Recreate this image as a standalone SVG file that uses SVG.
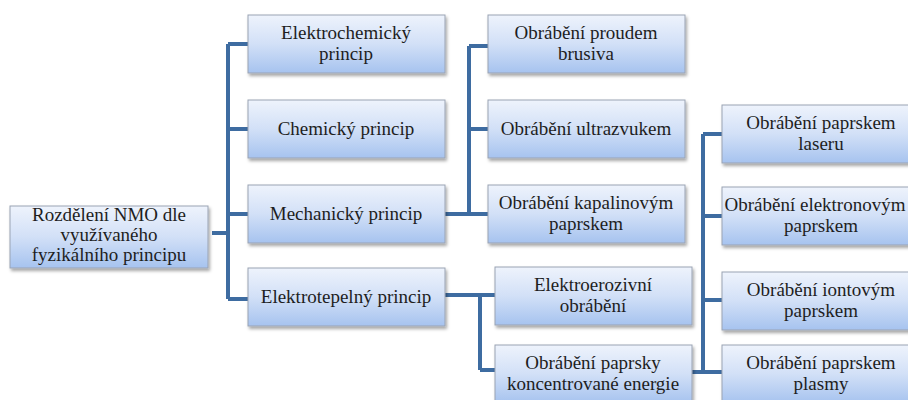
<svg xmlns="http://www.w3.org/2000/svg" width="908" height="400" viewBox="0 0 908 400">
<defs>
<linearGradient id="g" x1="0" y1="0" x2="0" y2="1">
<stop offset="0" stop-color="#eef3fc"/>
<stop offset="0.5" stop-color="#d2e0f7"/>
<stop offset="1" stop-color="#a6c3ef"/>
</linearGradient>
<filter id="sh" x="-10%" y="-10%" width="125%" height="140%">
<feDropShadow dx="1.5" dy="2.5" stdDeviation="1.5" flood-color="#000" flood-opacity="0.35"/>
</filter>
</defs>
<style>
.box{fill:url(#g);stroke:#9aa3b3;stroke-width:1;filter:url(#sh)}
.c{fill:none;stroke:#3e6ca1;stroke-width:4}
</style>
<rect width="908" height="400" fill="#fff"/>
<g id="connectors">
<path class="c" d="M212 233H228M228 44V299M228 44H248M228 129H248M228 214H248M228 299H248"/>
<path class="c" d="M445 214H488M469 46V214M469 46H488M469 129H488"/>
<path class="c" d="M445 295H495M480 295V370M480 370H495"/>
<path class="c" d="M692 372H703M703 134V372M703 134H722M703 216H722M703 300H722M703 372H722"/>
</g>
<g id="nodes" font-family="Liberation Serif, serif" font-size="19" fill="#1e1e1e" text-anchor="middle">
<g id="root"><rect class="box" x="10" y="206" width="198" height="62"/>
<text x="109" y="221">Rozdělení NMO dle</text><text x="109" y="241">využívaného</text><text x="109" y="261">fyzikálního principu</text></g>
<g id="elektrochem"><rect class="box" x="248" y="15" width="197" height="58"/>
<text x="346" y="39">Elektrochemický</text><text x="346" y="60">princip</text></g>
<g id="chem"><rect class="box" x="248" y="100" width="197" height="58"/>
<text x="346" y="135">Chemický princip</text></g>
<g id="mech"><rect class="box" x="248" y="185" width="197" height="58"/>
<text x="346" y="220">Mechanický princip</text></g>
<g id="elektrotep"><rect class="box" x="248" y="268" width="197" height="58"/>
<text x="346" y="303">Elektrotepelný princip</text></g>
<g id="brusivo"><rect class="box" x="488" y="15" width="197" height="58"/>
<text x="586" y="39">Obrábění proudem</text><text x="586" y="60">brusiva</text></g>
<g id="ultrazvuk"><rect class="box" x="488" y="100" width="197" height="58"/>
<text x="586" y="135">Obrábění ultrazvukem</text></g>
<g id="kapalina"><rect class="box" x="488" y="185" width="197" height="58"/>
<text x="586" y="209">Obrábění kapalinovým</text><text x="586" y="230">paprskem</text></g>
<g id="eroze"><rect class="box" x="495" y="267" width="197" height="58"/>
<text x="593" y="291">Elektroerozivní</text><text x="593" y="312">obrábění</text></g>
<g id="koncentr"><rect class="box" x="495" y="345" width="197" height="58"/>
<text x="593" y="369">Obrábění paprsky</text><text x="593" y="390">koncentrované energie</text></g>
<g id="laser"><rect class="box" x="722" y="105" width="198" height="58"/>
<text x="821" y="129">Obrábění paprskem</text><text x="821" y="150">laseru</text></g>
<g id="elektron"><rect class="box" x="722" y="187" width="198" height="58"/>
<text x="815" y="211">Obrábění elektronovým</text><text x="821" y="232">paprskem</text></g>
<g id="iont"><rect class="box" x="722" y="272" width="198" height="58"/>
<text x="821" y="296">Obrábění iontovým</text><text x="821" y="317">paprskem</text></g>
<g id="plasma"><rect class="box" x="722" y="345" width="198" height="58"/>
<text x="821" y="369">Obrábění paprskem</text><text x="821" y="390">plasmy</text></g>
</g>
</svg>
